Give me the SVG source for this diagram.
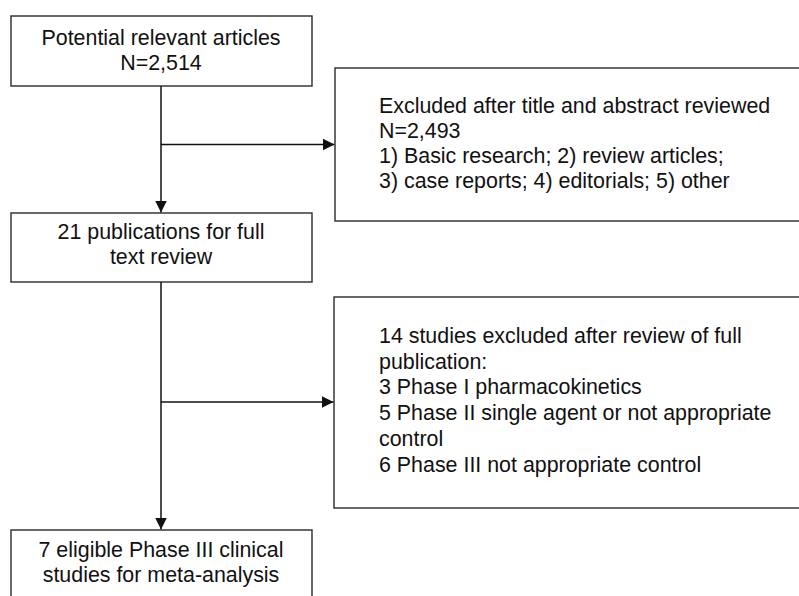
<svg xmlns="http://www.w3.org/2000/svg" width="799" height="596" viewBox="0 0 799 596">
  <style>
    .box { fill: #ffffff; stroke: #2a2a2a; stroke-width: 1.4; }
    .t { font-family: "Liberation Sans", Arial, sans-serif; font-size: 21.4px; fill: #111111; }
    .c { text-anchor: middle; }
    .conn { stroke: #111111; stroke-width: 1.5; fill: none; }
  </style>
  <defs>
    <marker id="ah" viewBox="0 0 12 12" refX="12" refY="6" markerWidth="12" markerHeight="12" markerUnits="userSpaceOnUse" orient="auto">
      <path d="M0,0 L12,6 L0,12 Z" fill="#111111"/>
    </marker>
  </defs>
  <rect width="799" height="596" fill="#ffffff"/>

  <g id="connectors">
    <line class="conn" x1="161" y1="86" x2="161" y2="212.5" marker-end="url(#ah)"/>
    <line class="conn" x1="161" y1="144.5" x2="334.5" y2="144.5" marker-end="url(#ah)"/>
    <line class="conn" x1="161" y1="282" x2="161" y2="529.5" marker-end="url(#ah)"/>
    <line class="conn" x1="161" y1="402" x2="333.5" y2="402" marker-end="url(#ah)"/>
  </g>

  <g id="node-potential">
    <rect class="box" x="11" y="16" width="301" height="70"/>
    <text class="t c" x="161" y="44.5">Potential relevant articles</text>
    <text class="t c" x="161" y="70">N=2,514</text>
  </g>

  <g id="node-excluded-title">
    <rect class="box" x="335" y="68" width="470" height="153"/>
    <text class="t" x="379" y="112.7">Excluded after title and abstract reviewed</text>
    <text class="t" x="379" y="137.9">N=2,493</text>
    <text class="t" x="379" y="163.1">1) Basic research; 2) review articles;</text>
    <text class="t" x="379" y="188.3">3) case reports; 4) editorials; 5) other</text>
  </g>

  <g id="node-fulltext">
    <rect class="box" x="11" y="213" width="301" height="69"/>
    <text class="t c" x="161" y="239.3">21 publications for full</text>
    <text class="t c" x="161" y="264">text review</text>
  </g>

  <g id="node-excluded-full">
    <rect class="box" x="334" y="297" width="471" height="211"/>
    <text class="t" x="379" y="343">14 studies excluded after review of full</text>
    <text class="t" x="379" y="368.7">publication:</text>
    <text class="t" x="379" y="394.4">3 Phase I pharmacokinetics</text>
    <text class="t" x="379" y="420.1">5 Phase II single agent or not appropriate</text>
    <text class="t" x="379" y="445.8">control</text>
    <text class="t" x="379" y="471.5">6 Phase III not appropriate control</text>
  </g>

  <g id="node-eligible">
    <rect class="box" x="11" y="530" width="301" height="80"/>
    <text class="t c" x="161" y="556.7">7 eligible Phase III clinical</text>
    <text class="t c" x="161" y="581.7">studies for meta-analysis</text>
  </g>
</svg>
